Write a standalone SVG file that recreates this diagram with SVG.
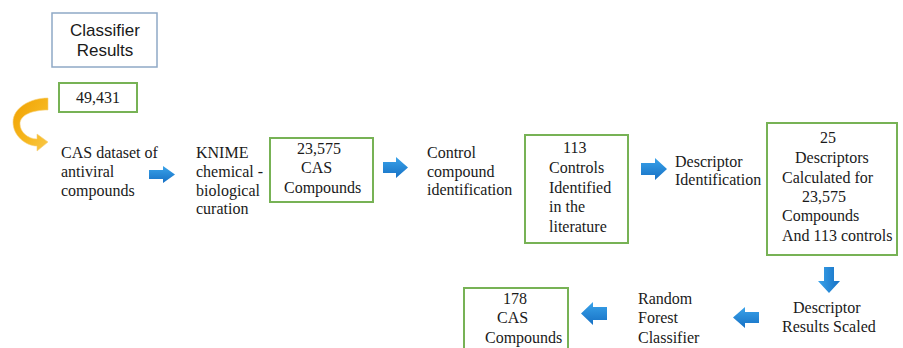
<svg xmlns="http://www.w3.org/2000/svg" width="903" height="348" viewBox="0 0 903 348">
<defs>
<style>
.g{fill:#fff;stroke:#77b255;stroke-width:2}
.b{fill:#fff;stroke:#8fa9c6;stroke-width:1.5}
.ar{fill:url(#blue)}
.tx{font-family:"Liberation Serif",Tinos,"Noto Serif","DejaVu Serif",FreeSerif,Times,"Times New Roman",serif;font-size:16px;fill:#1a1a1a}
</style>
<linearGradient id="blue" x1="0" y1="0" x2="0" y2="1">
<stop offset="0" stop-color="#3aa3ea"/>
<stop offset="1" stop-color="#1670c4"/>
</linearGradient>
<linearGradient id="bluev" x1="0" y1="0" x2="1" y2="0">
<stop offset="0" stop-color="#3aa3ea"/>
<stop offset="1" stop-color="#1670c4"/>
</linearGradient>
<linearGradient id="orange" x1="0" y1="0" x2="1" y2="1">
<stop offset="0" stop-color="#f0a000"/>
<stop offset="0.6" stop-color="#f6b820"/>
<stop offset="1" stop-color="#f9c84a"/>
</linearGradient>
</defs>
<rect width="903" height="348" fill="#fff"/>

<g font-family="'Liberation Sans', Arial, sans-serif" font-size="17" fill="#1a1a1a">
<g id="classifier-results">
<rect class="b" x="52" y="13" width="105" height="54"/>
<text x="105" y="36" text-anchor="middle">Classifier</text>
<text x="105" y="56" text-anchor="middle">Results</text>
</g>
</g>

<g class="tx">
<g id="n49431">
<rect class="g" x="59" y="83" width="78" height="29"/>
<text x="98" y="103" text-anchor="middle">49,431</text>
</g>

<g id="cas-dataset">
<text x="61" y="158">CAS dataset of</text>
<text x="61" y="177">antiviral</text>
<text x="61" y="196">compounds</text>
</g>

<g id="knime">
<text x="196" y="158">KNIME</text>
<text x="196" y="177">chemical -</text>
<text x="196" y="196">biological</text>
<text x="196" y="214">curation</text>
</g>

<g id="n23575">
<rect class="g" x="270" y="138" width="103" height="64"/>
<text x="297" y="154">23,575</text>
<text x="301" y="173">CAS</text>
<text x="284" y="193">Compounds</text>
</g>

<g id="control-id">
<text x="427" y="158">Control</text>
<text x="427" y="177">compound</text>
<text x="427" y="195">identification</text>
</g>

<g id="n113">
<rect class="g" x="525" y="135" width="103" height="108"/>
<text x="563" y="153">113</text>
<text x="549" y="173">Controls</text>
<text x="549" y="193">Identified</text>
<text x="549" y="212">in the</text>
<text x="549" y="232">literature</text>
</g>

<g id="descriptor-id">
<text x="675" y="167">Descriptor</text>
<text x="675" y="185">Identification</text>
</g>

<g id="n25">
<rect class="g" x="767" y="123" width="130" height="132"/>
<text x="820" y="143">25</text>
<text x="795" y="163">Descriptors</text>
<text x="782" y="183">Calculated for</text>
<text x="802" y="202">23,575</text>
<text x="782" y="221">Compounds</text>
<text x="782" y="241">And 113 controls</text>
</g>

<g id="descriptor-scaled">
<text x="793" y="313">Descriptor</text>
<text x="782" y="332">Results Scaled</text>
</g>

<g id="random-forest">
<text x="638" y="304">Random</text>
<text x="638" y="323">Forest</text>
<text x="638" y="343">Classifier</text>
</g>

<g id="n178">
<rect class="g" x="464" y="288" width="104" height="70"/>
<text x="503" y="304">178</text>
<text x="497" y="323">CAS</text>
<text x="485" y="343">Compounds</text>
</g>
</g>

<g id="connectors">
<path d="M48,98 C30,98 13,108 13,122 C13,136 26,146 37,146 L37,151 L48,142 L37,134 L37,139 C28,139 20,132 20,124 C20,115 32,110 48,110 Z" fill="url(#orange)" stroke="#f8d27a" stroke-width="0.6"/>
<path class="ar" d="M149,170 H163 V166 L175,174.5 L163,183 V179 H149 Z"/>
<path class="ar" d="M383,162 H396 V157 L408,167.5 L396,178 V173 H383 Z"/>
<path class="ar" d="M641,163 H655 V158 L667,169 L655,180 V175 H641 Z"/>
<path d="M824,267 H834 V281 H840 L829,293 L818,281 H824 Z" fill="url(#bluev)"/>
<path class="ar" d="M759,312 H745 V307 L733,317.5 L745,328 V323 H759 Z"/>
<path class="ar" d="M607,307 H593 V302 L581,313.5 L593,325 V320 H607 Z"/>
</g>
</svg>
